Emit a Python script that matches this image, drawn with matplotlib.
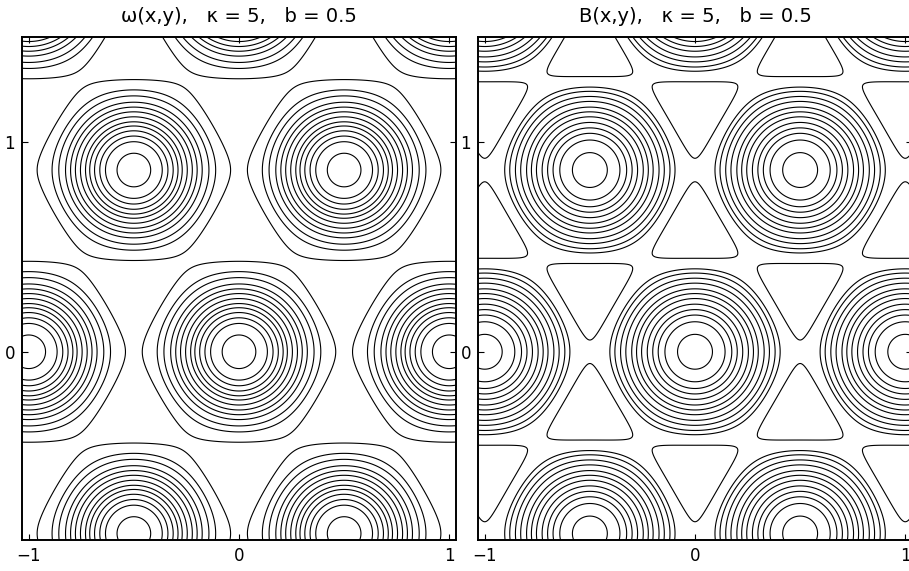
import numpy as np
import matplotlib.pyplot as plt

plt.rcParams['font.family'] = ['DejaVu Sans']

# triangular vortex lattice, spacing 1
a1 = np.array([1.0, 0.0])
a2 = np.array([0.5, np.sqrt(3) / 2])
sigma = 0.25

# contour radii around a vortex (along the x direction)
r_omega = [0.080, 0.135, 0.162, 0.187, 0.210, 0.230, 0.254,
           0.278, 0.301, 0.325, 0.357, 0.389, 0.460]
r_B = [0.083, 0.143, 0.175, 0.201, 0.227, 0.254, 0.278,
       0.301, 0.329, 0.354, 0.381, 0.405]
# tip of the triangle around the field minimum
tip_B = (0.5, 0.056)

titles = [r'ω(x,y),   κ = 5,   b = 0.5', r'B(x,y),   κ = 5,   b = 0.5']
xticks = [-1, 0, 1]
yticks = [0, 1]
xlim = (-1.032, 1.032)
ylim = (-0.897, 1.5)


def gsum(x, y):
    g = np.zeros_like(np.asarray(x, dtype=float))
    for m in range(-5, 6):
        for n in range(-5, 6):
            cx, cy = m * a1 + n * a2
            g = g + np.exp(-((x - cx) ** 2 + (y - cy) ** 2) / (2 * sigma ** 2))
    return g


def omega(x, y):
    return 1.0 - gsum(x, y)


def bfield(x, y):
    return gsum(x, y)


xs = np.linspace(-1.1, 1.1, 1100)
ys = np.linspace(-1.0, 1.6, 1300)
X, Y = np.meshgrid(xs, ys)

W = omega(X, Y)
B = bfield(X, Y)

lev_w = np.sort([omega(r, 0.0) for r in r_omega])
lev_b = np.sort([bfield(r, 0.0) for r in r_B] + [bfield(*tip_B)])

fig = plt.figure(figsize=(9.09, 5.71), dpi=100)
ax1 = fig.add_axes([22 / 909, 31 / 571, 434 / 909, 503 / 571])
ax2 = fig.add_axes([478 / 909, 31 / 571, 434 / 909, 503 / 571])

for ax, Z, lev, title in [(ax1, W, lev_w, titles[0]), (ax2, B, lev_b, titles[1])]:
    ax.contour(X, Y, Z, levels=lev, colors='k', linewidths=0.8)
    ax.set_xlim(*xlim)
    ax.set_ylim(*ylim)
    ax.set_xticks(xticks)
    ax.set_yticks(yticks)
    ax.tick_params(direction='in', top=True, right=True, length=4,
                   width=0.8, labelsize=12, pad=5)
    for s in ax.spines.values():
        s.set_linewidth(1.4)
    ax.set_title(title, fontsize=14, pad=11)

fig.savefig('out.png', dpi=100)
